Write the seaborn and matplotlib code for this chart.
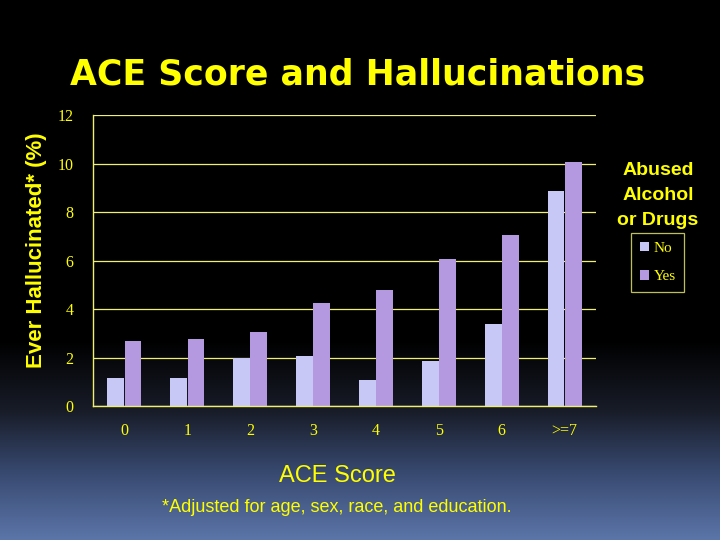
import numpy as np
import pandas as pd
import matplotlib
matplotlib.use("Agg")
import matplotlib.pyplot as plt
import seaborn as sns

# values (percent who ever hallucinated)
ace_scores = ["0", "1", "2", "3", "4", "5", "6", ">=7"]
pct_no = [1.17, 1.17, 2.0, 2.07, 1.09, 1.87, 3.39, 8.88]
pct_yes = [2.69, 2.78, 3.06, 4.26, 4.80, 6.07, 7.06, 10.07]
groups = ["No", "Yes"]

df = pd.DataFrame({
    "ACE": ace_scores * 2,
    "pct": pct_no + pct_yes,
    "abused": ["No"] * len(ace_scores) + ["Yes"] * len(ace_scores),
})

sns.set_style("white")
plt.rcParams["font.family"] = ["Liberation Sans", "DejaVu Sans"]

YEL = "#ffff00"
fig = plt.figure(figsize=(7.2, 5.4), dpi=100)

# slide background: black fading to slate blue at the bottom
bg = fig.add_axes([0, 0, 1, 1], zorder=-10)
rows = np.arange(540)
stops_y = [0, 340, 410, 470, 540]
stops_c = np.array([[0, 0, 0], [0, 0, 0], [24, 28, 40], [55, 72, 110], [92, 118, 170]]) / 255
grad = np.stack([np.interp(rows, stops_y, stops_c[:, i]) for i in range(3)], axis=1)
bg.imshow(grad[:, None, :], aspect="auto", extent=[0, 1, 0, 1])
bg.set_axis_off()

ax = fig.add_axes([0.129, 0.248, 0.699, 0.539])
ax.set_facecolor("none")
sns.barplot(data=df, x="ACE", y="pct", hue="abused", hue_order=groups,
            palette=["#c0c0ff", "#b18cec"], width=0.55, gap=0.03,
            edgecolor="none", ax=ax)

ax.set_ylim(0, 12)
ax.set_yticks(range(0, 13, 2))
ax.set_xlim(-0.5, len(ace_scores) - 0.5)
ax.yaxis.grid(True, color="#f0f070", linewidth=0.9)
ax.set_axisbelow(True)
for s in ["top", "right"]:
    ax.spines[s].set_visible(False)
for s in ["left", "bottom"]:
    ax.spines[s].set_color("#f0f070")
    ax.spines[s].set_linewidth(1.0)

ax.tick_params(axis="y", colors=YEL, length=5, direction="out", width=0.9,
               labelsize=11.5, pad=9)
ax.tick_params(axis="x", colors=YEL, length=0, labelsize=11.5, pad=12)
for lab in ax.get_xticklabels() + ax.get_yticklabels():
    lab.set_fontfamily("Liberation Serif")
# ticks between categories on the x axis
ax.set_xticks(np.arange(-0.5, len(ace_scores)), minor=True)
ax.tick_params(axis="x", which="minor", length=5, color="#f0f070", width=0.9)

ax.set_xlabel("")
ax.set_ylabel("Ever Hallucinated* (%)", color=YEL, fontsize=16,
              fontweight="bold", va="center")
ax.yaxis.set_label_coords(-0.113, 0.535)

handles, labels = ax.get_legend_handles_labels()
leg = ax.legend(handles, labels, loc="upper left", bbox_to_anchor=(1.055, 0.62),
                frameon=True, facecolor="black", edgecolor="#f0f070",
                handlelength=0.6, handleheight=0.6,
                labelspacing=1.0, borderpad=0.55, handletextpad=0.3,
                prop={"family": "Liberation Serif", "size": 11})
leg.get_frame().set_linewidth(0.9)
leg.get_frame().set_boxstyle("square", pad=0.0)
for t in leg.get_texts():
    t.set_color(YEL)

fig.text(0.914, 0.576, "Abused\nAlcohol\nor Drugs", color=YEL, fontsize=14,
         fontweight="bold", ha="center", va="bottom", linespacing=1.6)

fig.text(0.497, 0.862, "ACE Score and Hallucinations", color=YEL,
         fontsize=25, fontweight="bold", ha="center", va="center",
         family="DejaVu Sans")
fig.text(0.468, 0.118, "ACE Score", color=YEL, fontsize=17,
         ha="center", va="center")
fig.text(0.468, 0.061, "*Adjusted for age, sex, race, and education.",
         color=YEL, fontsize=13, ha="center", va="center")

fig.savefig("out.png", dpi=100)
